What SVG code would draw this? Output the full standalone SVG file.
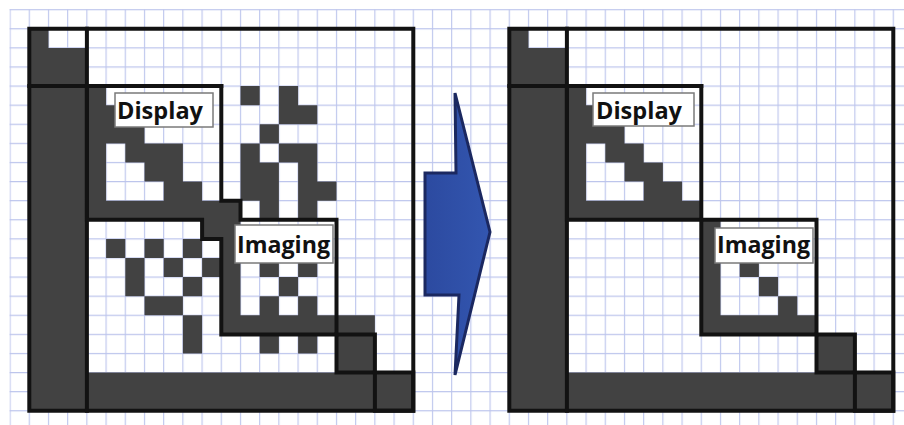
<svg xmlns="http://www.w3.org/2000/svg" width="904" height="425" viewBox="0 0 904 425">
<style>
.d{fill:#424242;stroke:none}
.ln{fill:none;stroke:#121212;stroke-width:4;stroke-linejoin:miter;stroke-linecap:square}
.lb{fill:#ffffff;stroke:#7a7a7a;stroke-width:1.5}
.lt{font-family:"Open Sans","DejaVu Sans",sans-serif;font-weight:700;font-size:24px;fill:#111111}
</style>
<defs>
<pattern id="grid" x="9.5" y="9.1" width="19.2" height="19.1" patternUnits="userSpaceOnUse">
<path d="M0 0.6H19.2M0.6 0V19.1" stroke="#bcc4ec" stroke-width="1.1" fill="none"/>
</pattern>
<linearGradient id="ag" x1="0" y1="0" x2="1" y2="0">
<stop offset="0" stop-color="#2c4aa0"/>
<stop offset="1" stop-color="#3356b0"/>
</linearGradient>
</defs>
<rect width="904" height="425" fill="#ffffff"/>
<rect x="9.5" y="9.1" width="895" height="416" fill="url(#grid)"/>

<g id="before">
<g transform="translate(29.3,28.8) scale(19.2,19.1)">
<path class="d" d="M0 0h1v1h-1z M0 1h3v2h-3z M0 3h3v17h-3z M3 18h15v2h-15z M18 18h2v2h-2z M16 16h2v2h-2z
M3 3h1v7h-1z M4 4h1v1h-1z M4 5h2v1h-2z M5 6h3v1h-3z M6 7h2v1h-2z M7 8h2v1h-2z M3 9h8v1h-8z M9 10h1v1h-1z
M4 11h1v1h-1z M6 11h1v1h-1z M8 11h1v1h-1z M5 12h1v1h-1z M7 12h1v1h-1z M9 12h1v1h-1z M5 13h1v1h-1z M8 13h1v1h-1z M6 14h2v1h-2z M8 15h1v2h-1z
M11 3h1v1h-1z M13 3h1v1h-1z M13 4h2v1h-2z M12 5h1v1h-1z M11 6h1v1h-1z M13 6h2v1h-2z M11 7h2v1h-2z M14 7h1v1h-1z M11 8h2v1h-2z M14 8h2v1h-2z M12 9h1v1h-1z M14 9h1v1h-1z
M10 10h1v6h-1z M12 12h1v1h-1z M14 12h1v1h-1z M13 13h1v1h-1z M12 14h1v1h-1z M14 14h1v1h-1z M10 15h8v1h-8z M12 16h1v1h-1z M14 16h1v1h-1z"/>
<rect class="ln" x="0" y="0" width="20" height="20" vector-effect="non-scaling-stroke"/>
<path class="ln" d="M3 0V20 M0 3H10" vector-effect="non-scaling-stroke"/>
<path class="ln" d="M3 3H10V9H11V10H16V16H10V11H9V10H3Z" vector-effect="non-scaling-stroke"/>
<rect class="ln" x="16" y="16" width="2" height="2" vector-effect="non-scaling-stroke"/>
<rect class="ln" x="18" y="18" width="2" height="2" vector-effect="non-scaling-stroke"/>
</g>
</g>

<g id="label-display-before">
<rect class="lb" x="115" y="93" width="98" height="34"/>
<text class="lt" x="117" y="119" textLength="86" lengthAdjust="spacingAndGlyphs">Display</text>
</g>
<g id="label-imaging-before">
<rect class="lb" x="235" y="225" width="98" height="38"/>
<text class="lt" x="237" y="253" textLength="93" lengthAdjust="spacingAndGlyphs" font-size="25">Imaging</text>
</g>

<g id="arrow">
<polygon points="455,93 490,232 455,375 459,295 425,295 425,173 456,173" fill="url(#ag)" stroke="#1b2860" stroke-width="3" stroke-linejoin="miter"/>
</g>

<g id="after">
<g transform="translate(509.3,28.8) scale(19.2,19.1)">
<path class="d" d="M0 0h1v1h-1z M0 1h3v2h-3z M0 3h3v17h-3z M3 18h15v2h-15z M18 18h2v2h-2z M16 16h2v2h-2z
M3 3h1v7h-1z M4 4h1v1h-1z M4 5h2v1h-2z M5 6h2v1h-2z M6 7h2v1h-2z M7 8h2v1h-2z M3 9h7v1h-7z
M10 10h1v6h-1z M11 11h1v1h-1z M12 12h1v1h-1z M13 13h1v1h-1z M14 14h1v1h-1z M10 15h6v1h-6z"/>
<rect class="ln" x="0" y="0" width="20" height="20" vector-effect="non-scaling-stroke"/>
<path class="ln" d="M3 0V20 M0 3H10" vector-effect="non-scaling-stroke"/>
<rect class="ln" x="3" y="3" width="7" height="7" vector-effect="non-scaling-stroke"/>
<rect class="ln" x="10" y="10" width="6" height="6" vector-effect="non-scaling-stroke"/>
<rect class="ln" x="16" y="16" width="2" height="2" vector-effect="non-scaling-stroke"/>
<rect class="ln" x="18" y="18" width="2" height="2" vector-effect="non-scaling-stroke"/>
</g>
</g>

<g id="label-display-after">
<rect class="lb" x="593" y="93" width="101" height="33"/>
<text class="lt" x="596" y="119" textLength="86" lengthAdjust="spacingAndGlyphs">Display</text>
</g>
<g id="label-imaging-after">
<rect class="lb" x="715" y="228" width="98" height="35"/>
<text class="lt" x="717" y="253" textLength="93" lengthAdjust="spacingAndGlyphs" font-size="25">Imaging</text>
</g>
</svg>
